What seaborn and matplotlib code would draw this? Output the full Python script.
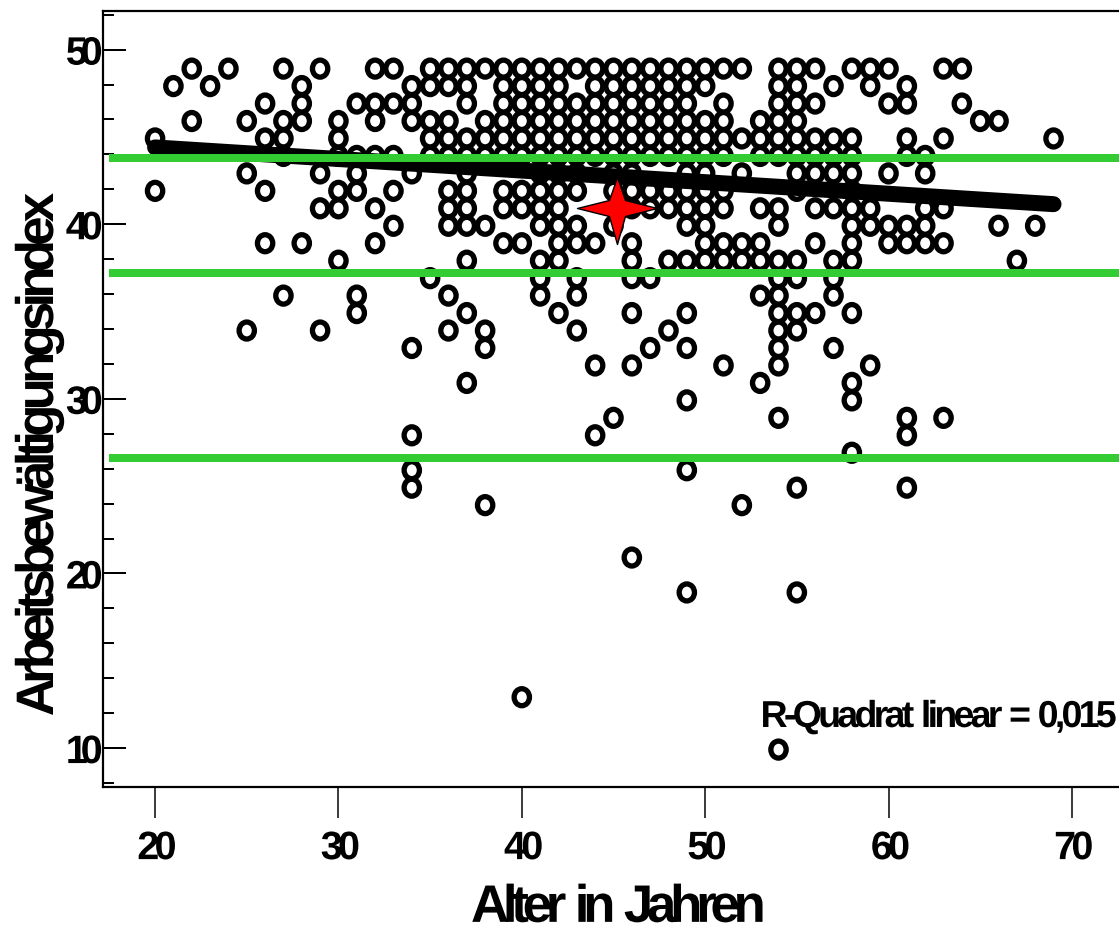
import numpy as np
import pandas as pd
import matplotlib
matplotlib.use("Agg")
import matplotlib.pyplot as plt
from matplotlib.path import Path
from matplotlib.markers import MarkerStyle
from matplotlib.patheffects import AbstractPathEffect
from matplotlib.transforms import Affine2D
import seaborn as sns

ages = list(range(20, 70))
y20 = [45, 42]
y21 = [48]
y22 = [49, 46]
y23 = [48]
y24 = [49]
y25 = [46, 43, 34]
y26 = [47, 45, 42, 39]
y27 = [49, 46, 45, 44, 36]
y28 = [48, 47, 46, 39]
y29 = [49, 43, 41, 34]
y30 = [46, 45, 44, 42, 41, 38]
y31 = [47, 44, 43, 42, 36, 35]
y32 = [49, 47, 46, 44, 41, 39]
y33 = [49, 47, 44, 42, 40]
y34 = [48, 47, 46, 43, 33, 28, 26, 25]
y35 = [49, 48, 46, 45, 44, 37]
y36 = [49, 48, 46, 45, 44, 42, 41, 40, 36, 34]
y37 = [49, 48, 47, 45, 44, 43, 42, 41, 40, 38, 35, 31]
y38 = [49, 46, 45, 44, 40, 34, 33, 24]
y39 = [49, 48, 47, 46, 45, 44, 42, 41, 39]
y40 = [49, 48, 47, 46, 45, 44, 42, 41, 39, 13]
y41 = [49, 48, 47, 46, 45, 44, 43, 42, 41, 40, 38, 37, 36]
y42 = [49, 48, 47, 46, 45, 44, 43, 42, 41, 40, 39, 38, 35]
y43 = [49, 47, 46, 45, 44, 43, 42, 40, 39, 37, 36, 34]
y44 = [49, 48, 47, 46, 45, 44, 39, 32, 28]
y45 = [49, 48, 47, 46, 45, 44, 43, 42, 40, 29]
y46 = [49, 48, 47, 46, 45, 44, 43, 42, 41, 39, 38, 37, 35, 32, 21]
y47 = [49, 48, 47, 46, 45, 44, 42, 41, 37, 33]
y48 = [49, 48, 47, 46, 45, 44, 42, 41, 38, 34]
y49 = [49, 48, 47, 46, 45, 44, 43, 42, 41, 40, 38, 35, 33, 30, 26, 19]
y50 = [49, 48, 46, 45, 44, 43, 42, 41, 40, 39, 38]
y51 = [49, 47, 46, 45, 44, 42, 41, 39, 38, 32]
y52 = [49, 45, 43, 39, 38, 24]
y53 = [46, 45, 44, 41, 39, 38, 36, 31]
y54 = [49, 48, 47, 46, 45, 44, 41, 40, 38, 37, 36, 35, 34, 33, 32, 29, 10]
y55 = [49, 48, 47, 46, 45, 44, 43, 42, 38, 37, 35, 34, 25, 19]
y56 = [49, 47, 45, 44, 43, 41, 39, 35]
y57 = [48, 45, 44, 43, 41, 38, 37, 36, 33]
y58 = [49, 45, 44, 43, 42, 41, 40, 39, 38, 35, 31, 30, 27]
y59 = [49, 48, 41, 40, 32]
y60 = [49, 47, 43, 40, 39]
y61 = [48, 47, 45, 44, 40, 39, 29, 28, 25]
y62 = [44, 43, 41, 40, 39]
y63 = [49, 45, 41, 39, 29]
y64 = [49, 47]
y65 = [46]
y66 = [46, 40]
y67 = [38]
y68 = [40]
y69 = [45]
groups = [y20, y21, y22, y23, y24, y25, y26, y27, y28, y29, y30, y31, y32, y33, y34, y35, y36,
          y37, y38, y39, y40, y41, y42, y43, y44, y45, y46, y47, y48, y49, y50, y51, y52, y53,
          y54, y55, y56, y57, y58, y59, y60, y61, y62, y63, y64, y65, y66, y67, y68, y69]

fit_age = [20, 69]
fit_index = [44.4, 41.15]
mean_age = [45.19]
mean_index = [40.93]
band_levels = [43.78, 37.2, 26.64]
x_ticks = [20, 30, 40, 50, 60, 70]
y_ticks = [10, 20, 30, 40, 50]
y_minor = [8, 12, 14, 16, 18, 22, 24, 26, 28, 32, 34, 36, 38, 42, 44, 46, 48, 52]

PX = 0.72  # points per pixel at dpi 100
W, H = 1119, 925


class Tracking(AbstractPathEffect):
    """Tighten letter spacing glyph by glyph (centred); optional scale and shifts."""

    def __init__(self, em, scale=1.0, dy=0.0, dx=0.0):
        super().__init__()
        self.d = em * 100.0
        self.scale = scale
        self.dy = dy * 100.0
        self.dx = dx * 100.0

    def draw_path(self, renderer, gc, tpath, affine, rgbFace=None):
        verts, codes = tpath.vertices, tpath.codes
        starts = list(np.where(codes == Path.MOVETO)[0]) + [len(codes)]
        spans = [(verts[a:b, 0].min(), verts[a:b, 0].max(), a, b)
                 for a, b in zip(starts[:-1], starts[1:]) if b - a > 1]
        spans.sort()
        cx = (verts[:, 0].min() + verts[:, 0].max()) / 2.0
        new = verts.copy()
        k, right, glyphs = -1, -1e9, []
        for lo, hi, a, b in spans:
            if lo >= right - 4:
                k += 1
            right = max(right, hi)
            glyphs.append((k, a, b))
        for g, a, b in glyphs:
            new[a:b, 0] -= (g - k / 2.0) * self.d
        new[:, 0] = cx + (new[:, 0] - cx) * self.scale + self.dx
        new[:, 1] = new[:, 1] * self.scale + self.dy
        renderer.draw_path(gc, Path(new, codes), affine, rgbFace)


sns.set_theme(style="white")
plt.rcParams["font.family"] = ["Liberation Sans", "DejaVu Sans"]
plt.rcParams["font.weight"] = "bold"

fig = plt.figure(figsize=(W / 100, H / 100), dpi=100)
ax = fig.add_axes([103 / W, 1 - 787 / H, (W - 103) / W, (787 - 10.7) / H])
ax.set_xlim(17.16, 72.57)
ax.set_ylim(7.77, 52.23)

df = pd.DataFrame({
    "Alter": [a for a, g in zip(ages, groups) for _ in g],
    "Index": [v for g in groups for v in g],
})

circle = Path.unit_circle()
ring = Path(circle.vertices * np.array([0.9, 1.0]), circle.codes)
ring_marker = MarkerStyle(ring, transform=Affine2D().translate(0, -0.09))
sns.scatterplot(data=df, x="Alter", y="Index", ax=ax, marker=ring_marker,
                s=(17 * PX) ** 2, color="black", zorder=2, legend=False)
pts = ax.collections[-1]
pts.set_facecolor("none")
pts.set_edgecolor("black")
pts.set_linewidth(5.3 * PX)

sns.lineplot(x=fit_age, y=fit_index, ax=ax, color="black", lw=16 * PX,
             solid_capstyle="round", zorder=3, errorbar=None, legend=False)
ax.hlines(band_levels, 17.5, 72.6, color="#33cc33", lw=8 * PX, zorder=4)

star = Path(np.array([(0, 31), (8, 8), (40, 0), (8, -8), (0, -36), (-8, -8), (-40, 0), (-8, 8), (0, 31)], float),
            closed=True)
sns.scatterplot(x=mean_age, y=mean_index, ax=ax, marker=MarkerStyle(star), s=(80 * PX) ** 2,
                color="#ff0000", edgecolor="black", linewidth=1.4 * PX, zorder=5, legend=False)

for s in ["top", "left", "bottom"]:
    ax.spines[s].set_visible(True)
    ax.spines[s].set_linewidth(2.2 * PX)
    ax.spines[s].set_color("black")
ax.spines["right"].set_visible(False)

ax.set_xticks(x_ticks)
ax.set_yticks(y_ticks)
ax.set_yticks(y_minor, minor=True)
ax.set_xticklabels([str(t) for t in x_ticks])
ax.set_yticklabels([str(t) for t in y_ticks])
ax.tick_params(axis="x", which="major", direction="out", length=31 * PX, width=1.5 * PX,
               color="black", labelcolor="black", labelsize=28.5, pad=8, bottom=True)
ax.tick_params(axis="y", which="major", direction="in", length=23 * PX, width=2 * PX,
               color="black", labelcolor="black", labelsize=28.5, pad=-2.5, left=True)
ax.tick_params(axis="y", which="minor", direction="in", length=11.5 * PX, width=2 * PX,
               color="black", left=True)
for lab in ax.get_xticklabels():
    lab.set_fontweight("bold")
    lab.set_path_effects([Tracking(0.12, dx=0.05)])
for lab in ax.get_yticklabels():
    lab.set_fontweight("bold")
    lab.set_path_effects([Tracking(0.18)])

ax.set_xlabel("")
ax.set_ylabel("")
fig.text(618 / W, 1 - 915 / H, "Alter in Jahren", fontsize=26, fontweight="bold", color="black",
         ha="center", va="baseline", path_effects=[Tracking(0.118, scale=38 / 26, dy=-0.19)])
fig.text(53 / W, 1 - 455 / H, "Arbeitsbewältigungsindex", fontsize=38, fontweight="bold", color="black",
         rotation=90, rotation_mode="anchor", ha="center", va="baseline", path_effects=[Tracking(0.11)])
fig.text(938.5 / W, 1 - 727 / H, "R-Quadrat linear = 0,015", fontsize=21.7, fontweight="bold", color="black",
         ha="center", va="baseline", path_effects=[Tracking(0.099, scale=27 / 21.7)])

fig.savefig("out.png", dpi=100, facecolor="white")
